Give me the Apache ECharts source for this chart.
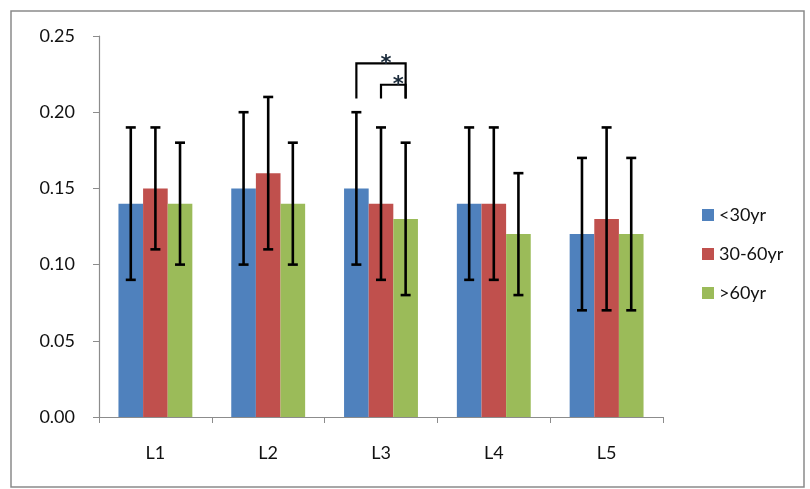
<!DOCTYPE html>
<html>
<head>
<meta charset="utf-8">
<script src="https://cdn.jsdelivr.net/npm/echarts@6/dist/echarts.min.js"></script>
<style>
  html, body { margin: 0; padding: 0; background: #fff; }
  #chart { width: 810px; height: 489px; }
</style>
</head>
<body>
<div id="chart"></div>
<script>
// categories and series
var categories = ['L1', 'L2', 'L3', 'L4', 'L5'];
var seriesNames = ['<30yr', '30-60yr', '>60yr'];
var seriesColors = ['#4F81BD', '#C0504D', '#9BBB59'];

// bar values
var young = [0.14, 0.15, 0.15, 0.14, 0.12];
var middle = [0.15, 0.16, 0.14, 0.14, 0.13];
var old = [0.14, 0.14, 0.13, 0.12, 0.12];

// error bar ranges [low, high]
var youngErr = [[0.09, 0.19], [0.10, 0.20], [0.10, 0.20], [0.09, 0.19], [0.07, 0.17]];
var middleErr = [[0.11, 0.19], [0.11, 0.21], [0.09, 0.19], [0.09, 0.19], [0.07, 0.19]];
var oldErr = [[0.10, 0.18], [0.10, 0.18], [0.08, 0.18], [0.08, 0.16], [0.07, 0.17]];

// significance brackets: [category, from series, to series, top value, foot value]
var brackets = [
    [2, 0, 2, 0.232, 0.209],
    [2, 1, 2, 0.218, 0.209]
];

var yTicks = { min: 0, max: 0.25, interval: 0.05 };

var barValues = [young, middle, old];
var errValues = [youngErr, middleErr, oldErr];
var CAT_GAP = 0.345;

// x offset of a bar centre inside its category band
function barOffset(api, s) {
    var band = api.size([1, 0])[0];
    var barW = band * (1 - CAT_GAP) / 3;
    return (s - 1) * barW;
}

var series = [];
barValues.forEach(function (vals, s) {
    series.push({
        name: seriesNames[s],
        type: 'bar',
        data: vals,
        barGap: '0%',
        barCategoryGap: (CAT_GAP * 100) + '%',
        itemStyle: { color: seriesColors[s] },
        z: 2
    });
});

errValues.forEach(function (errs, s) {
    series.push({
        type: 'custom',
        silent: true,
        z: 5,
        data: errs.map(function (e, i) { return [i, e[0], e[1]]; }),
        renderItem: function (params, api) {
            var off = barOffset(api, s);
            var lo = api.coord([api.value(0), api.value(1)]);
            var hi = api.coord([api.value(0), api.value(2)]);
            var x = lo[0] + off;
            var cap = 5;
            var style = { stroke: '#000', lineWidth: 2.6 };
            return {
                type: 'group',
                children: [
                    { type: 'line', shape: { x1: x, y1: lo[1], x2: x, y2: hi[1] }, style: style },
                    { type: 'line', shape: { x1: x - cap, y1: lo[1], x2: x + cap, y2: lo[1] }, style: style },
                    { type: 'line', shape: { x1: x - cap, y1: hi[1], x2: x + cap, y2: hi[1] }, style: style }
                ]
            };
        }
    });
});

series.push({
    type: 'custom',
    silent: true,
    z: 5,
    data: brackets,
    renderItem: function (params, api) {
        var cat = api.value(0);
        var top = api.coord([cat, api.value(3)]);
        var foot = api.coord([cat, api.value(4)]);
        var x1 = top[0] + barOffset(api, api.value(1));
        var x2 = top[0] + barOffset(api, api.value(2));
        var style = { stroke: '#000', lineWidth: 2.2, fill: null };
        return {
            type: 'group',
            children: [
                {
                    type: 'polyline',
                    shape: { points: [[x1, foot[1]], [x1, top[1]], [x2, top[1]], [x2, foot[1]]] },
                    style: style
                },
                {
                    type: 'text',
                    z2: 10,
                    style: {
                        text: '*', x: (x1 + x2) / 2 + 5, y: top[1] + 1,
                        fill: '#1a2a3a', font: 'bold 21px "DejaVu Sans"',
                        align: 'center', verticalAlign: 'middle'
                    }
                }
            ]
        };
    }
});

var option = {
    animation: false,
    backgroundColor: '#fff',
    textStyle: { fontFamily: 'Lato' },
    graphic: [{
        type: 'rect',
        shape: { x: 11, y: 11, width: 793, height: 476 },
        style: { fill: null, stroke: '#8a8a8a', lineWidth: 1.5 }
    }],
    legend: {
        orient: 'vertical',
        left: 697,
        top: 201,
        itemWidth: 12,
        itemHeight: 12,
        itemGap: 21,
        icon: 'rect',
        textStyle: { fontSize: 18, color: '#111', fontFamily: 'Lato' },
        data: seriesNames
    },
    grid: { left: 99, right: 147, top: 36, bottom: 72 },
    xAxis: {
        type: 'category',
        data: categories,
        axisLine: { lineStyle: { color: '#8c8c8c', width: 1.2 } },
        axisTick: { show: true, length: 6, lineStyle: { color: '#8c8c8c' } },
        axisLabel: { fontSize: 18, color: '#111', margin: 27 }
    },
    yAxis: {
        type: 'value',
        min: yTicks.min,
        max: yTicks.max,
        interval: yTicks.interval,
        splitLine: { show: false },
        axisLine: { show: true, lineStyle: { color: '#8c8c8c', width: 1.2 } },
        axisTick: { show: true, length: 6, lineStyle: { color: '#8c8c8c' } },
        axisLabel: {
            fontSize: 18, color: '#111', margin: 24,
            formatter: function (v) { return v.toFixed(2); }
        }
    },
    series: series
};

var chart = echarts.init(document.getElementById('chart'));
chart.setOption(option);
</script>
</body>
</html>
